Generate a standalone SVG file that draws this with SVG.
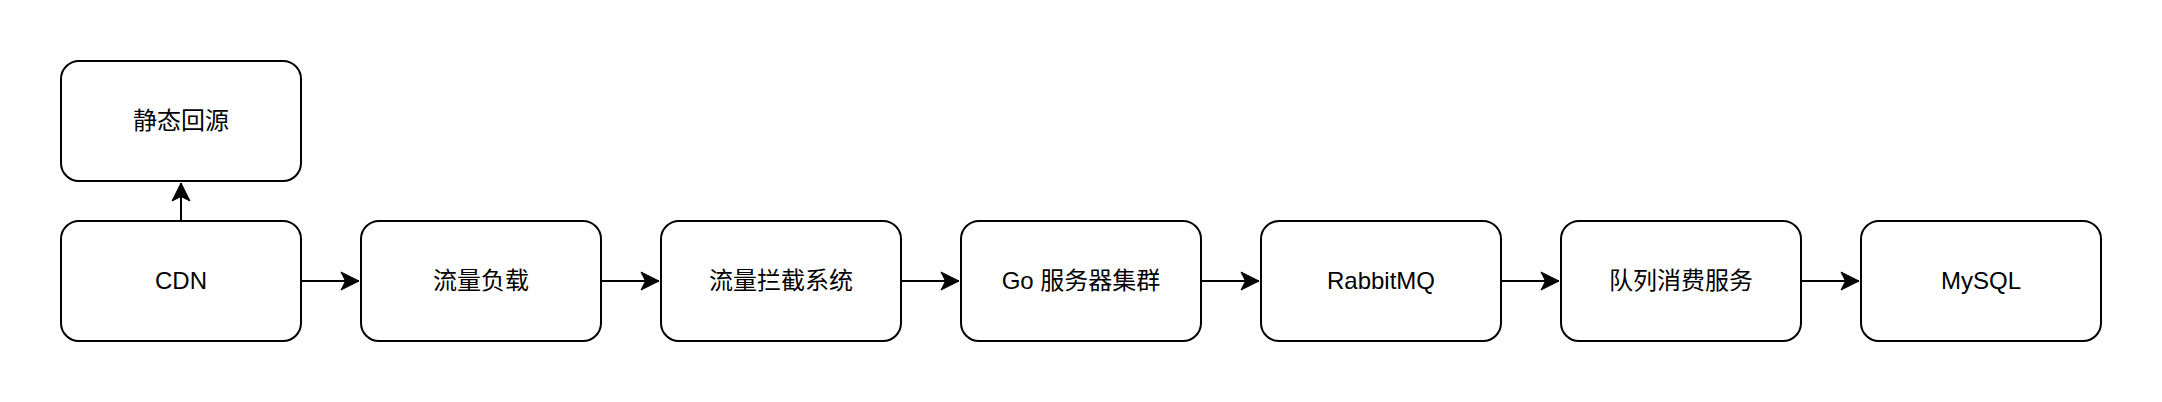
<svg xmlns="http://www.w3.org/2000/svg" width="2162" height="402" viewBox="0 0 2162 402">
<style>
.box{fill:#fff;stroke:#000;stroke-width:2}
.lbl{font-family:"Liberation Sans","Noto Sans CJK SC",sans-serif;font-size:24px;fill:#000;text-anchor:middle}
.edge{fill:none;stroke:#000;stroke-width:2}
</style>
<defs>
<marker id="arr" markerUnits="userSpaceOnUse" markerWidth="20" markerHeight="20" viewBox="-18 -10 20 20" refX="0" refY="0" orient="auto" overflow="visible">
<path d="M0,0 L-18,-9 L-13.5,0 L-18,9 Z" fill="#000" stroke="#000" stroke-width="1"/>
</marker>
</defs>
<rect width="2162" height="402" fill="#fff"/>
<g id="connectors">
<path class="edge" d="M181,221 V183" marker-end="url(#arr)"/>
<path class="edge" d="M301,281 H359" marker-end="url(#arr)"/>
<path class="edge" d="M601,281 H659" marker-end="url(#arr)"/>
<path class="edge" d="M901,281 H959" marker-end="url(#arr)"/>
<path class="edge" d="M1201,281 H1259" marker-end="url(#arr)"/>
<path class="edge" d="M1501,281 H1559" marker-end="url(#arr)"/>
<path class="edge" d="M1801,281 H1859" marker-end="url(#arr)"/>
</g>
<g id="static-origin"><rect class="box" x="61" y="61" width="240" height="120" rx="18"/><text class="lbl" x="181" y="129">静态回源</text></g>
<g id="cdn"><rect class="box" x="61" y="221" width="240" height="120" rx="18"/><text class="lbl" x="181" y="289">CDN</text></g>
<g id="traffic-lb"><rect class="box" x="361" y="221" width="240" height="120" rx="18"/><text class="lbl" x="481" y="289">流量负载</text></g>
<g id="traffic-block"><rect class="box" x="661" y="221" width="240" height="120" rx="18"/><text class="lbl" x="781" y="289">流量拦截系统</text></g>
<g id="go-cluster"><rect class="box" x="961" y="221" width="240" height="120" rx="18"/><text class="lbl" x="1081" y="289">Go 服务器集群</text></g>
<g id="rabbitmq"><rect class="box" x="1261" y="221" width="240" height="120" rx="18"/><text class="lbl" x="1381" y="289">RabbitMQ</text></g>
<g id="queue-consumer"><rect class="box" x="1561" y="221" width="240" height="120" rx="18"/><text class="lbl" x="1681" y="289">队列消费服务</text></g>
<g id="mysql"><rect class="box" x="1861" y="221" width="240" height="120" rx="18"/><text class="lbl" x="1981" y="289">MySQL</text></g>
</svg>
